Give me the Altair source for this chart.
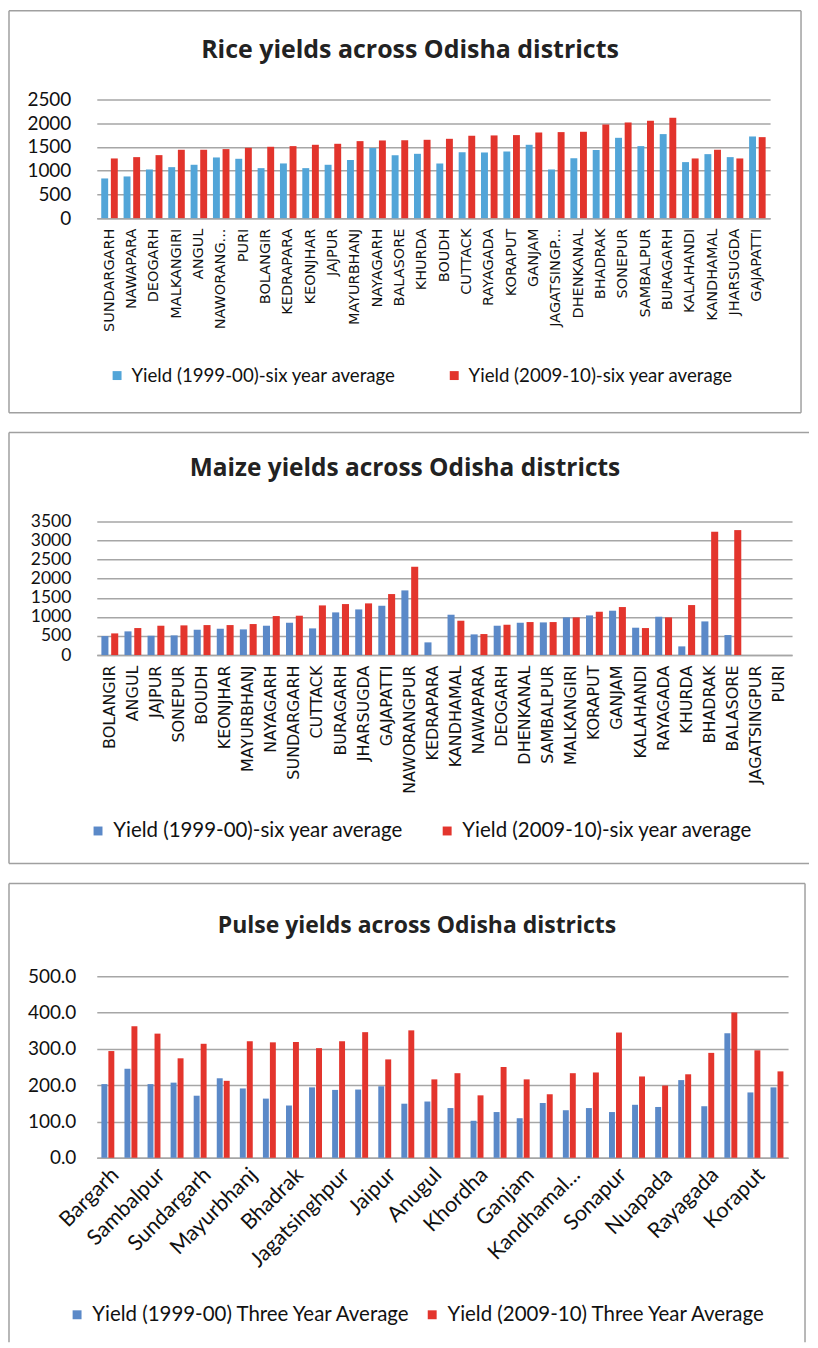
import altair as alt
import pandas as pd

# ---------------- data ----------------
rice_districts = ["SUNDARGARH", "NAWAPARA", "DEOGARH", "MALKANGIRI", "ANGUL", "NAWORANG...",
                  "PURI", "BOLANGIR", "KEDRAPARA", "KEONJHAR", "JAJPUR", "MAYURBHANJ",
                  "NAYAGARH", "BALASORE", "KHURDA", "BOUDH", "CUTTACK", "RAYAGADA",
                  "KORAPUT", "GANJAM", "JAGATSINGP...", "DHENKANAL", "BHADRAK", "SONEPUR",
                  "SAMBALPUR", "BURAGARH", "KALAHANDI", "KANDHAMAL", "JHARSUGDA", "GAJAPATTI"]
rice_1999 = [836, 878, 1025, 1074, 1124, 1278, 1250, 1053, 1152, 1053, 1124, 1222,
             1475, 1327, 1355, 1152, 1390, 1383, 1404, 1545, 1025, 1264, 1433, 1692,
             1517, 1770, 1180, 1348, 1285, 1720]
rice_2009 = [1257, 1285, 1327, 1440, 1440, 1454, 1482, 1503, 1517, 1545, 1566, 1622,
             1636, 1643, 1650, 1671, 1734, 1742, 1749, 1805, 1812, 1819, 1973, 2015,
             2051, 2114, 1257, 1440, 1257, 1706]
rice_series = ["Yield (1999-00)-six year average", "Yield (2009-10)-six year average"]

maize_districts = ["BOLANGIR", "ANGUL", "JAJPUR", "SONEPUR", "BOUDH", "KEONJHAR", "MAYURBHANJ",
                   "NAYAGARH", "SUNDARGARH", "CUTTACK", "BURAGARH", "JHARSUGDA", "GAJAPATTI",
                   "NAWORANGPUR", "KEDRAPARA", "KANDHAMAL", "NAWAPARA", "DEOGARH", "DHENKANAL",
                   "SAMBALPUR", "MALKANGIRI", "KORAPUT", "GANJAM", "KALAHANDI", "RAYAGADA",
                   "KHURDA", "BHADRAK", "BALASORE", "JAGATSINGPUR", "PURI"]
maize_1999 = [497, 620, 506, 515, 663, 689, 672, 768, 846, 698, 1117, 1195, 1291,
              1693, 332, 1056, 541, 768, 846, 855, 986, 1038, 1161, 716, 1003,
              227, 881, 524, 0, 0]
maize_2009 = [567, 707, 768, 777, 785, 785, 812, 1021, 1030, 1300, 1335, 1353, 1597,
              2312, 0, 899, 550, 794, 864, 864, 986, 1134, 1257, 707, 986,
              1309, 3229, 3272, 0, 0]
maize_series = ["Yield (1999-00)-six year average", "Yield (2009-10)-six year average"]

pulse_districts = ["Bargarh", "Jharsuguda", "Sambalpur", "Deogarh", "Sundargarh", "Keonjhar",
                   "Mayurbhanj", "Balasore", "Bhadrak", "Kendrapara", "Jagatsinghpur", "Cuttack",
                   "Jaipur", "Dhenkanal", "Anugul", "Nayagarh", "Khordha", "Puri",
                   "Ganjam", "Gajapati", "Kandhamal...", "Boudh", "Sonapur", "Bolangir",
                   "Nuapada", "Kalahandi", "Rayagada", "Nabarangpur", "Koraput", "Malkangiri"]
pulse_shown = ["Bargarh", "Sambalpur", "Sundargarh", "Mayurbhanj", "Bhadrak", "Jagatsinghpur",
               "Jaipur", "Anugul", "Khordha", "Ganjam", "Kandhamal...", "Sonapur",
               "Nuapada", "Rayagada", "Koraput"]
pulse_1999 = [203, 245, 203, 207, 171, 219, 191, 163, 144, 194, 187, 188, 197, 149, 155,
              137, 102, 126, 109, 151, 131, 137, 126, 146, 140, 214, 142, 343, 180, 194]
pulse_2009 = [294, 362, 342, 274, 314, 212, 321, 318, 319, 302, 321, 346, 271, 351, 216,
              233, 172, 250, 216, 175, 233, 235, 345, 224, 199, 230, 289, 400, 296, 238]
pulse_series = ["Yield (1999-00) Three Year Average", "Yield (2009-10) Three Year Average"]

GRID = "#A6A6A6"
FRAME = "#A0A0A0"


def long_df(districts, a, b, series):
    rows = []
    for d, va, vb in zip(districts, a, b):
        rows.append({"district": d, "series": series[0], "value": va})
        rows.append({"district": d, "series": series[1], "value": vb})
    return pd.DataFrame(rows)


one = pd.DataFrame({"k": [0]})


def frame_rules(left, right, top, bottom, sides):
    out = []
    for s in sides:
        if s == "top":
            enc = dict(x=alt.value(left), x2=alt.value(right), y=alt.value(top))
        elif s == "bottom":
            enc = dict(x=alt.value(left), x2=alt.value(right), y=alt.value(bottom))
        elif s == "left":
            enc = dict(x=alt.value(left), y=alt.value(top), y2=alt.value(bottom))
        else:
            enc = dict(x=alt.value(right), y=alt.value(top), y2=alt.value(bottom))
        out.append(alt.Chart(one).mark_rule(color=FRAME, strokeWidth=1.5).encode(**enc))
    return out


def panel(df, districts, series, colors, w, h, ymax, ystep, yfmt, title, tx, ty, tfs,
          lx, ly, colpad, lfs, xaxis, xpad, offpad, ylabpad, yfs, frame):
    title_mark = alt.Chart(one).mark_text(
        font="Open Sans", fontSize=tfs, fontWeight="bold", color="#222222",
        align="center", baseline="middle"
    ).encode(x=alt.value(tx), y=alt.value(ty), text=alt.value(title))

    bars = alt.Chart(df).mark_bar().encode(
        x=alt.X("district:N", sort=districts,
                scale=alt.Scale(paddingInner=xpad), axis=xaxis),
        xOffset=alt.XOffset("series:N", sort=series,
                            scale=alt.Scale(paddingInner=offpad, paddingOuter=0)),
        y=alt.Y("value:Q", scale=alt.Scale(domain=[0, ymax], nice=False),
                axis=alt.Axis(title=None, values=list(range(0, ymax + 1, ystep)),
                              format=yfmt, domain=False, ticks=False,
                              gridColor=GRID, gridWidth=1.5,
                              labelFont="Lato", labelFontSize=yfs, labelColor="#111111",
                              labelPadding=ylabpad)),
        color=alt.Color("series:N", sort=series,
                        scale=alt.Scale(domain=series, range=colors),
                        legend=alt.Legend(title=None, orient="none", legendX=lx, legendY=ly,
                                          direction="horizontal", symbolType="square",
                                          symbolSize=80, symbolStrokeWidth=0,
                                          labelFont="Lato", labelFontSize=lfs,
                                          labelColor="#111111", labelLimit=600,
                                          columnPadding=colpad, labelOffset=5, padding=0)),
    )
    layers = frame + [title_mark, bars]
    return alt.layer(*layers).properties(width=w, height=h)


# ---- Rice ----
rice_df = long_df(rice_districts, rice_1999, rice_2009, rice_series)
rice_axis = alt.Axis(title=None, labelAngle=-90, ticks=False, domainColor=GRID, domainWidth=1.5,
                     labelFont="DejaVu Sans", labelFontSize=14.5, labelColor="#111111",
                     labelPadding=10, labelOverlap=False, labelLimit=300, grid=False)
rice_w, rice_h = 675, 119
rice = panel(rice_df, rice_districts, rice_series, ["#52A5D8", "#E2342C"],
             rice_w, rice_h, 2500, 500, "d", "Rice yields across Odisha districts", 314, -50, 25,
             11, 267, 49, 18.7, rice_axis, 0.26, 0.28, 26, 19,
             frame_rules(-88, 706, -89, rice_h + 195, ["top", "bottom", "left", "right"]))

# ---- Maize ----
maize_df = long_df(maize_districts, maize_1999, maize_2009, maize_series)
maize_axis = alt.Axis(title=None, labelAngle=-90, ticks=False, domainColor=GRID, domainWidth=1.5,
                      labelFont="DejaVu Sans", labelFontSize=16, labelColor="#111111",
                      labelPadding=10, labelOverlap=False, labelLimit=300, grid=False)
maize_w, maize_h = 697, 134
maize = panel(maize_df, maize_districts, maize_series, ["#5B89C8", "#E3352D"],
              maize_w, maize_h, 3500, 500, "d", "Maize yields across Odisha districts", 309, -52, 24.5,
              -9, 300, 33, 20.5, maize_axis, 0.27, 0.28, 26, 17.5,
              frame_rules(-88, 714, -89, maize_h + 209, ["top", "bottom", "left"]))

# ---- Pulse ----
pulse_df = long_df(pulse_districts, pulse_1999, pulse_2009, pulse_series)
pulse_axis = alt.Axis(title=None, labelAngle=-45, ticks=False, domainColor=GRID, domainWidth=1.5,
                      labelFont="Lato", labelFontSize=21.5, labelColor="#111111",
                      labelPadding=6, labelOverlap=False, labelLimit=300, grid=False,
                      values=pulse_shown)
pulse_w, pulse_h = 693, 182
pulse = panel(pulse_df, pulse_districts, pulse_series, ["#5B89C8", "#E3352D"],
              pulse_w, pulse_h, 500, 100, ".1f", "Pulse yields across Odisha districts", 321, -50, 23,
              -30, 329, 10, 20.5, pulse_axis, 0.44, 0.15, 21, 19,
              frame_rules(-88, 710, -93, pulse_h + 185, ["top", "left", "right"]))

chart = alt.vconcat(rice, maize, pulse, spacing=18).resolve_scale(
    x="independent", y="independent", color="independent", xOffset="independent"
).resolve_legend(color="independent").properties(padding=0).configure_view(stroke=None)

chart.save("out.html", embed_options={"renderer": "svg", "actions": False})
